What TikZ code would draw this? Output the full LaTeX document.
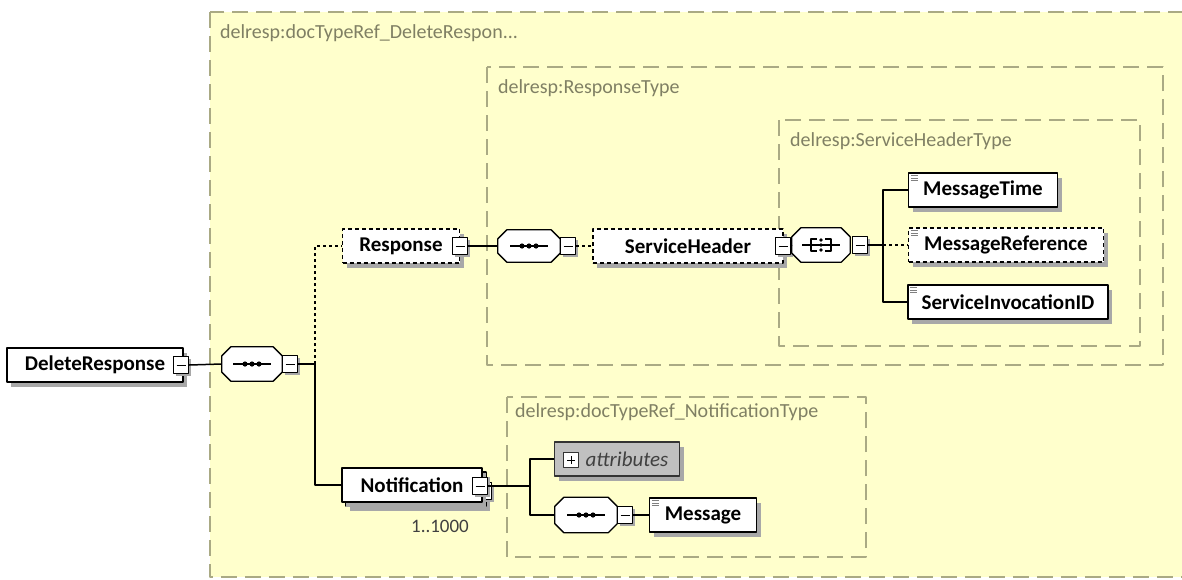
\documentclass[tikz,border=0pt]{standalone}
\usepackage{fontspec}
\setmainfont{Carlito}
\usetikzlibrary{shadows}

\definecolor{frameyellow}{RGB}{255,255,204}
\definecolor{frameline}{RGB}{170,170,132}
\definecolor{framelabel}{RGB}{128,128,100}
\definecolor{shadowgray}{RGB}{168,168,168}
\definecolor{attrgray}{RGB}{192,192,192}

\tikzset{
  frame/.style={fill=frameyellow, draw=frameline, line width=1.6pt, dash pattern=on 16pt off 8pt},
  framelab/.style={anchor=west, inner sep=0pt, text=framelabel, font=\fontsize{20}{24}\selectfont},
  elem/.style={draw=black, fill=white, line width=1.3pt, inner sep=0pt, minimum height=34pt,
    font=\fontsize{21}{24}\selectfont\bfseries,
    drop shadow={fill=shadowgray, opacity=1, shadow xshift=4pt, shadow yshift=-5pt}},
  optelem/.style={elem, dash pattern=on 4pt off 3pt},
  compbox/.style={inner sep=0pt, minimum height=34pt, minimum width=60pt},
  octshadow/.style={fill=shadowgray},
  octface/.style={fill=white, draw=black, line width=1.3pt},
  minusbox/.style={draw=black, fill=white, line width=1.1pt, inner sep=0pt,
    minimum width=15pt, minimum height=17pt,
    drop shadow={fill=shadowgray, opacity=1, shadow xshift=2pt, shadow yshift=-2pt},
    path picture={\draw[line width=1pt] ([xshift=3pt]path picture bounding box.west)
      -- ([xshift=-3pt]path picture bounding box.east);}},
  link/.style={line width=1.5pt},
  optlink/.style={line width=1.5pt, dash pattern=on 3pt off 3pt},
}

% octagon outline of a compositor, with its shadow
\newcommand\octo[1]{%
  \foreach \sx/\sy/\st in {4pt/-5pt/octshadow, 0pt/0pt/octface}
    \path[\st, shift={(\sx,\sy)}]
      ([xshift=9pt]#1.north west) -- ([xshift=-9pt]#1.north east) -- ([yshift=-9pt]#1.north east)
      -- ([yshift=9pt]#1.south east) -- ([xshift=-9pt]#1.south east) -- ([xshift=9pt]#1.south west)
      -- ([yshift=9pt]#1.south west) -- ([yshift=-9pt]#1.north west) -- cycle;}
% sequence mark: a bar with three dots
\newcommand\seqmark[1]{%
  \draw[line width=1.2pt] ([xshift=-19pt]#1.center) -- ([xshift=19pt]#1.center);
  \foreach \dx in {-7,0,7} \fill ([xshift=\dx pt]#1.center) circle (2.6pt);}
% all mark: bar with brackets and stacked dots
\newcommand\allmark[1]{%
  \draw[line width=1.2pt] ([xshift=-19pt]#1.center) -- ([xshift=19pt]#1.center);
  \draw[line width=1.2pt] ([xshift=-4pt,yshift=6pt]#1.center) -| ([xshift=-10pt,yshift=-6pt]#1.center) -- ([xshift=-4pt,yshift=-6pt]#1.center);
  \draw[line width=1.2pt] ([xshift=4pt,yshift=6pt]#1.center) -| ([xshift=10pt,yshift=-6pt]#1.center) -- ([xshift=4pt,yshift=-6pt]#1.center);
  \foreach \dy in {-5,0,5} \fill ([yshift=\dy pt]#1.center) circle (1.9pt);}
% simple type mark in the top left corner
\newcommand\typemark[1]{%
  \foreach \dy in {3,5.5,8} \draw[gray, line width=0.7pt] ([xshift=3pt,yshift=-\dy pt]#1.north west) -- ++(7pt,0);}

\begin{document}
\begin{tikzpicture}[x=1pt, y=-1pt, line join=round]
  \useasboundingbox (0,0) rectangle (1182,579);
  \clip (0,0) rectangle (1182,579);
  \fill[white] (0,0) rectangle (1182,579);

  % type frames
  \draw[frame] (210,12) rectangle (1200,577);
  \node[framelab] (lblDoc) at (220,33) {delresp:docTypeRef\_DeleteRespon...};
  \draw[frame] (487,67) rectangle (1163,365);
  \node[framelab] (lblResp) at (498,88) {delresp:ResponseType};
  \draw[frame] (779,120) rectangle (1140,346);
  \node[framelab] (lblHead) at (790,141) {delresp:ServiceHeaderType};
  \draw[frame] (507,397) rectangle (866,557);
  \node[framelab] (lblNote) at (515,412) {delresp:docTypeRef\_NotificationType};

  % root
  \node[elem, minimum width=176pt] (root) at (95,365) {DeleteResponse};
  \node[minusbox] (mRoot) at (181,365) {};
  \node[compbox] (seqA) at (252,364) {};
  \octo{seqA}
  \seqmark{seqA}
  \node[minusbox] (mSeqA) at (290,364) {};
  \coordinate (jA) at (315,364);

  % response branch
  \node[optelem, minimum width=117pt] (resp) at (401,246) {Response};
  \node[minusbox] (mResp) at (460,246) {};
  \node[compbox, minimum width=62pt, minimum height=32pt] (seqB) at (529,246) {};
  \octo{seqB}
  \seqmark{seqB}
  \node[minusbox] (mSeqB) at (568,246) {};
  \node[optelem, minimum width=190pt] (head) at (688,246) {ServiceHeader};
  \node[minusbox] (mHead) at (783,246) {};
  \node[compbox, minimum width=58pt] (allC) at (821,245) {};
  \octo{allC}
  \allmark{allC}
  \node[minusbox] (mAll) at (860,245) {};
  \coordinate (jB) at (883,245);

  \node[elem, minimum width=149pt] (msgTime) at (983,190) {MessageTime};
  \node[optelem, minimum width=195pt] (msgRef) at (1006,245) {MessageReference};
  \node[elem, minimum width=200pt] (invId) at (1008,302) {ServiceInvocationID};
  \typemark{msgTime}
  \typemark{msgRef}
  \typemark{invId}

  % notification branch
  \node[elem, minimum width=140pt] (noteBack) at (416,489) {};
  \node[minusbox] (mNoteBack) at (484,491) {};
  \node[elem, minimum width=140pt] (note) at (412,485) {Notification};
  \node[minusbox] (mNote) at (480,486) {};
  \node[inner sep=0pt, text=black!75, font=\fontsize{19}{22}\selectfont] (mult) at (440,526) {1..1000};
  \coordinate (jC) at (530,486);

  \node[draw=black!80, fill=attrgray, line width=1.3pt, inner sep=0pt, minimum width=125pt, minimum height=34pt,
    drop shadow={fill=shadowgray, opacity=1, shadow xshift=4pt, shadow yshift=-5pt},
    font=\fontsize{21}{24}\selectfont\itshape, text=black!75] (attrs) at (617,459) {\hspace{20pt}attributes};
  \node[draw=black!80, fill=white, line width=1pt, minimum size=15pt, inner sep=0pt] (plus) at (571,460) {};
  \draw[line width=1pt] ([xshift=-4pt]plus.center) -- ([xshift=4pt]plus.center)
    ([yshift=-4pt]plus.center) -- ([yshift=4pt]plus.center);
  \node[compbox, minimum width=62pt, minimum height=35pt] (seqC) at (586,515) {};
  \octo{seqC}
  \seqmark{seqC}
  \node[minusbox] (mSeqC) at (625,515) {};
  \node[elem, minimum width=107pt] (msg) at (703,515) {Message};
  \typemark{msg}

  % connectors
  \draw[link] (mRoot.east) -- (seqA.west);
  \draw[link] (mSeqA.east) -- (jA);
  \draw[optlink] (jA) |- (resp.west);
  \draw[link] (jA) |- (note.west);
  \draw[link] (mResp.east) -- (seqB.west);
  \draw[optlink] (mSeqB.east) -- (head.west);
  \draw[link] (mHead.east) -- (allC.west);
  \draw[link] (mAll.east) -- (jB);
  \draw[link] (jB) |- (msgTime.west);
  \draw[optlink] (jB) -- (msgRef.west);
  \draw[link] (jB) |- (invId.west);
  \draw[link] (mNote.east) -- (jC);
  \draw[link] (jC) |- (attrs.west);
  \draw[link] (jC) |- (seqC.west);
  \draw[link] (mSeqC.east) -- (msg.west);
\end{tikzpicture}
\end{document}
